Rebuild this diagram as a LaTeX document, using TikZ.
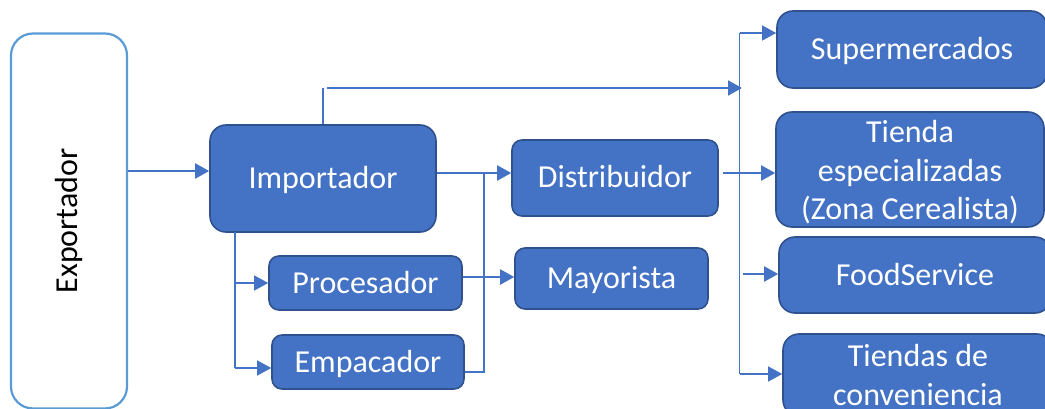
\documentclass[tikz,border=0pt]{standalone}
\usepackage{fontspec}
\setmainfont{Carlito}
\usetikzlibrary{arrows.meta,positioning}
\definecolor{boxfill}{HTML}{4472C4}
\definecolor{boxline}{HTML}{2F528F}
\definecolor{expline}{HTML}{5B9BD5}
\tikzset{
  x=1pt, y=-1pt,
  box/.style={draw=boxline, line width=1.6pt, fill=boxfill, text=white, rounded corners=16pt,
    inner sep=0pt, align=center, font=\fontsize{32}{38.5}\selectfont},
  oneline/.style={text height=26pt, text depth=6pt},
  smallbox/.style={box, rounded corners=10pt},
  expbox/.style={draw=expline, line width=2.2pt, fill=white, rounded corners=22pt, inner sep=0pt},
  arr/.style={draw=boxfill, line width=2pt, -{Triangle[length=14pt,width=15pt]}},
  tarr/.style={draw=boxfill, line width=1.3pt, -{Triangle[length=14pt,width=15pt]}},
  tline/.style={draw=boxfill, line width=1.3pt},
}
\begin{document}
\begin{tikzpicture}
\useasboundingbox (0,0) rectangle (1045,409);
\clip (0,0) rectangle (1045,409);
% Exportador
\node[expbox, minimum width=116pt, minimum height=375pt] (exp) at (69,221) {};
\node[rotate=90, font=\fontsize{32}{38.5}\selectfont] (exptxt) at (69,221) {Exportador};
% left boxes
\node[box, oneline, minimum width=226pt, minimum height=107pt] (imp) at (323,178.5) {Importador};
\node[smallbox, oneline, minimum width=193pt, minimum height=54pt] (pro) at (365.5,283) {Procesador};
\node[smallbox, oneline, minimum width=192pt, minimum height=54pt] (emp) at (368,362) {Empacador};
% middle boxes
\node[smallbox, oneline, minimum width=206pt, minimum height=76pt] (dis) at (615,178) {Distribuidor};
\node[smallbox, oneline, minimum width=193pt, minimum height=61pt] (may) at (611.5,278.5) {Mayorista};
% right boxes
\node[box, oneline, minimum width=270pt, minimum height=77pt] (sup) at (912,49.5) {Supermercados};
\node[box, minimum width=268pt, minimum height=115pt] (tie) at (910,169.5) {};
\node[text=white, align=center, inner sep=0pt, font=\fontsize{32}{38.5}\selectfont] (tietxt) at (910,172.5) {Tienda\\especializadas\\(Zona Cerealista)};
\node[box, oneline, minimum width=272pt, minimum height=76pt] (foo) at (915,275) {FoodService};
\node[box, minimum width=270pt, minimum height=82pt] (con) at (918,375) {Tiendas de\\conveniencia};
% coordinates
\coordinate (impTop) at (323,88);
\coordinate (busTop) at (739.5,33);
\coordinate (busBot) at (739.5,374);
\coordinate (busIn) at (742,88);
\coordinate (mergeTop) at (484,173);
\coordinate (mergeBot) at (484,372);
\coordinate (brTop) at (235,232);
\coordinate (brPro) at (235,283);
\coordinate (brEmp) at (235,368);
\coordinate (foodStart) at (743,274);
% connectors
\draw[arr] (exp.east |- 0,171) -- (imp.west |- 0,171);
\draw[tline] (imp.north -| impTop) -- (impTop);
\draw[arr] (327,88) -- (busIn);
\draw[arr] (imp.east |- 0,173) -- (dis.west |- 0,173);
\draw[tline] (mergeTop) -- (mergeBot) -- (emp.east |- mergeBot);
\draw[arr] (pro.east |- 0,277) -- (may.west |- 0,277);
\draw[tline] (brTop) -- (brEmp);
\draw[tarr] (brPro) -- (pro.west |- brPro);
\draw[tarr] (brEmp) -- (emp.west |- brEmp);
\draw[arr] (723,173) -- (tie.west |- 0,173);
\draw[tline] (busTop) -- (busBot);
\draw[tarr] (busTop) -- (sup.west |- busTop);
\draw[tarr] (busBot) -- (con.west |- busBot);
\draw[arr] (foodStart) -- (foo.west |- foodStart);
\end{tikzpicture}
\end{document}
